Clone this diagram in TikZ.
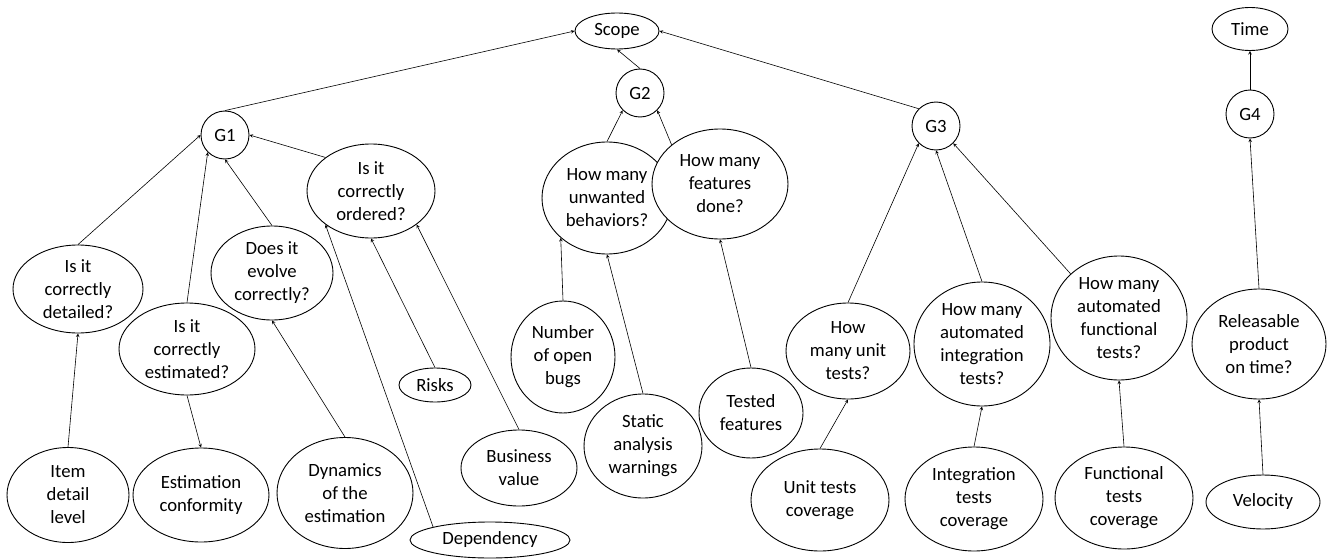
\documentclass[tikz,border=0pt]{standalone}
\usepackage{fontspec}
\setmainfont{Carlito}
\usetikzlibrary{shapes.geometric}
\begin{document}
\begin{tikzpicture}[
  x=1pt, y=-1pt,
  >=stealth,
  every node/.style={
    draw, ellipse, fill=white, line width=0.9pt,
    inner sep=0pt, align=center,
    font=\fontsize{18.7}{23}\selectfont},
  goal/.style={circle, minimum size=48pt},
  sz/.style 2 args={minimum width=#1pt, minimum height=#2pt},
  link/.style={->, line width=0.6pt}]

  \useasboundingbox (0,0) rectangle (1327,559);

  \node[sz={84}{36}] (scope) at (617,31) {Scope};
  \node[sz={76}{43}] (time) at (1250,29) {Time};

  \begin{scope}
    \node[goal] (g1) at (225,135) {G1};
    \node[sz={130}{88}] (detailed) at (78,289) {Is it\\correctly\\detailed?};
    \node[sz={136}{92}] (estimated) at (187,349) {Is it\\correctly\\estimated?};
    \node[sz={122}{94}] (evolve) at (272,273) {Does it\\evolve\\correctly?};
    \node[sz={128}{94}] (ordered) at (371,191) {Is it\\correctly\\ordered?};
    \node[sz={122}{95}] (itemlevel) at (68,495) {Item\\detail\\level};
    \node[sz={136}{94}] (conformity) at (201,495) {Estimation\\conformity};
    \node[sz={136}{111}] (dynamics) at (345,493) {Dynamics\\of the\\estimation};
    \node[sz={72}{34}] (risks) at (435,385) {Risks};
    \node[sz={116}{76}] (business) at (519,468) {Business\\value};
    \node[sz={160}{36}] (dependency) at (490,540) {Dependency};

    \draw[link] (g1.north) -- (scope.west);
    \draw[link] (detailed.north) -- (g1.west);
    \draw[link] (estimated.north) -- (g1.south west);
    \draw[link] (evolve.north) -- (g1.south);
    \draw[link] (ordered.north west) -- (g1.east);
    \draw[link] (itemlevel.north) -- (detailed.south);
    \draw[link] (estimated.south) -- (conformity.north);
    \draw[link] (dynamics.north) -- (evolve.south);
    \draw[link] (dependency.north west) -- (ordered.south west);
    \draw[link] (risks.north) -- (ordered.south);
    \draw[link] (business.north) -- (ordered.south east);
  \end{scope}

  \begin{scope}
    \node[goal] (g2) at (640,93) {G2};
    \node[sz={130}{112}] (unwanted) at (607,198) {How many\\unwanted\\behaviors?};
    \node[sz={136}{110}] (features) at (720,184) {How many\\features\\done?};
    \node[sz={104}{112}] (bugs) at (563,357) {Number\\of open\\bugs};
    \node[sz={118}{104}] (static) at (643,446) {Static\\analysis\\warnings};
    \node[sz={104}{90}] (tested) at (751,413) {Tested\\features};

    \draw[link] (g2.north) -- (scope.south);
    \draw[link] (unwanted.north) -- (g2.south west);
    \draw[link] (features.north west) -- (g2.south east);
    \draw[link] (bugs.north) -- (unwanted.south west);
    \draw[link] (static.north) -- (unwanted.south);
    \draw[link] (tested.north) -- (features.south);
  \end{scope}

  \begin{scope}
    \node[goal] (g3) at (936,126) {G3};
    \node[sz={124}{96}] (unitq) at (848,351) {How\\many unit\\tests?};
    \node[sz={136}{124}] (integq) at (982,344) {How many\\automated\\integration\\tests?};
    \node[sz={136}{124}] (funcq) at (1119,318) {How many\\automated\\functional\\tests?};
    \node[sz={138}{102}] (unitcov) at (820,500) {Unit tests\\coverage};
    \node[sz={138}{104}] (integcov) at (974,499) {Integration\\tests\\coverage};
    \node[sz={138}{102}] (funccov) at (1124,498) {Functional\\tests\\coverage};

    \draw[link] (g3.north west) -- (scope.east);
    \draw[link] (unitq.north) -- (g3.south west);
    \draw[link] (integq.north) -- (g3.south);
    \draw[link] (funcq.north west) -- (g3.south east);
    \draw[link] (unitcov.north) -- (unitq.south);
    \draw[link] (integcov.north) -- (integq.south);
    \draw[link] (funccov.north) -- (funcq.south);
  \end{scope}

  \begin{scope}
    \node[goal] (g4) at (1250,114) {G4};
    \node[sz={134}{110}] (releasable) at (1259,344) {Releasable\\product\\on time?};
    \node[sz={114}{54}] (velocity) at (1263,502) {Velocity};

    \draw[link] (g4.north) -- (time.south);
    \draw[link] (releasable.north) -- (g4.south);
    \draw[link] (velocity.north) -- (releasable.south);
  \end{scope}
\end{tikzpicture}
\end{document}
